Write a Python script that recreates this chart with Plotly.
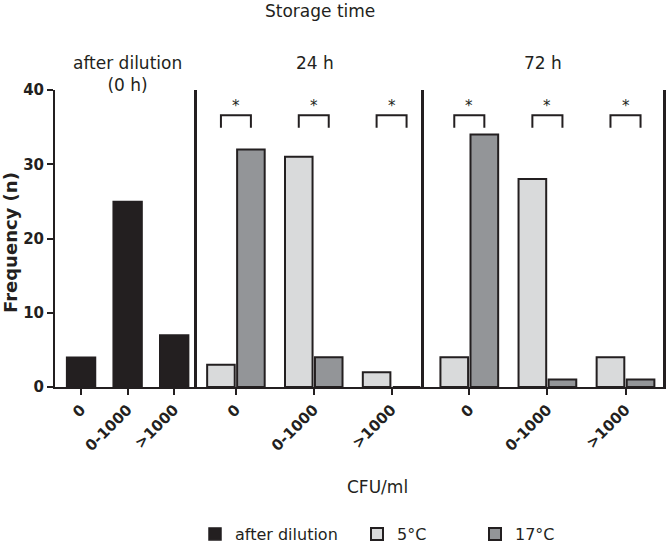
import plotly.graph_objects as go

# ---------------- data ----------------
categories = ["0", "0-1000", ">1000"]
after_dilution = [4, 25, 7]
h24_5c = [3, 31, 2]
h24_17c = [32, 4, 0]
h72_5c = [4, 28, 4]
h72_17c = [34, 1, 1]
y_ticks = [0, 10, 20, 30, 40]
panel_titles = ["after dilution<br>(0 h)", "24 h", "72 h"]
sig_24 = [True, True, True]
sig_72 = [True, True, True]

# ---------------- style ----------------
INK = "#231f20"
C_AFTER = "#231f20"
C_5 = "#d9dadb"
C_17 = "#939598"
FONT = "DejaVu Sans"
W, H = 666, 545
ML, MR, MT, MB = 55, 3, 90, 158
PW = W - ML - MR
PH = H - MT - MB
BARGAP = 0.23
BARGROUPGAP = 0.08


def px_x(p):
    """page pixel x -> paper fraction"""
    return (p - ML) / PW


def px_y(p):
    """page pixel y -> paper fraction"""
    return (H - MB - p) / PH


fig = go.Figure()

fig.add_trace(go.Bar(x=categories, y=after_dilution, name="after dilution",
                     xaxis="x", yaxis="y", width=0.62,
                     marker=dict(color=C_AFTER, line=dict(color=INK, width=1.5)),
                     legend="legend"))
fig.add_trace(go.Bar(x=categories, y=h24_5c, name="5°C", legendgroup="5c",
                     xaxis="x2", yaxis="y2",
                     marker=dict(color=C_5, line=dict(color=INK, width=2)),
                     legend="legend2"))
fig.add_trace(go.Bar(x=categories, y=h24_17c, name="17°C", legendgroup="17c",
                     xaxis="x2", yaxis="y2",
                     marker=dict(color=C_17, line=dict(color=INK, width=2)),
                     legend="legend3"))
fig.add_trace(go.Bar(x=categories, y=h72_5c, name="5°C", legendgroup="5c",
                     xaxis="x3", yaxis="y3", showlegend=False,
                     marker=dict(color=C_5, line=dict(color=INK, width=2))))
fig.add_trace(go.Bar(x=categories, y=h72_17c, name="17°C", legendgroup="17c",
                     xaxis="x3", yaxis="y3", showlegend=False,
                     marker=dict(color=C_17, line=dict(color=INK, width=2))))

tickfont = dict(family=FONT, size=15, color=INK, weight="bold")
xcommon = dict(type="category", showline=True, linewidth=2, linecolor=INK,
               ticks="outside", ticklen=6, tickwidth=2, tickcolor=INK,
               tickangle=-45, tickfont=tickfont, showgrid=False, zeroline=False)

d1 = px_x(197)
d2 = px_x(423.5)
d3 = px_x(424)

fig.update_layout(
    width=W, height=H,
    margin=dict(l=ML, r=MR, t=MT, b=MB, autoexpand=False),
    paper_bgcolor="white", plot_bgcolor="white",
    barmode="group", bargap=BARGAP, bargroupgap=BARGROUPGAP,
    font=dict(family=FONT, size=17, color=INK),
    xaxis=dict(domain=[0, d1], range=[-0.56, 2.49], anchor="y", **xcommon),
    xaxis2=dict(domain=[d1, d2], range=[-0.5, 2.41], anchor="y2", **xcommon),
    xaxis3=dict(domain=[d3, 1], range=[-0.58, 2.48], anchor="y3", **xcommon),
    yaxis=dict(range=[0, 40], tickvals=y_ticks, anchor="x",
               showline=True, linewidth=2, linecolor=INK,
               ticks="outside", ticklen=6, tickwidth=2, tickcolor=INK,
               tickfont=tickfont, showgrid=False, zeroline=False),
    yaxis2=dict(matches="y", range=[0, 40], anchor="x2", showline=True, linewidth=3,
                linecolor=INK, showticklabels=False, ticks="", showgrid=False,
                zeroline=False),
    yaxis3=dict(matches="y", range=[0, 40], anchor="x3", showline=True, linewidth=3,
                linecolor=INK, mirror=True, showticklabels=False, ticks="",
                showgrid=False, zeroline=False),
    showlegend=True,
)

leg_common = dict(orientation="h", xanchor="left", yanchor="middle",
                  yref="container", y=(H - 534) / H,
                  bgcolor="rgba(0,0,0,0)",
                  font=dict(family=FONT, size=16, color=INK))
fig.update_layout(
    legend=dict(x=px_x(195), **leg_common),
    legend2=dict(x=px_x(357), **leg_common),
    legend3=dict(x=px_x(475), **leg_common),
)

annotations = []
# y axis title
annotations.append(dict(text="<b>Frequency (n)</b>", x=px_x(10), y=px_y(243),
                        xref="paper", yref="paper", showarrow=False,
                        textangle=-90, xanchor="center", yanchor="middle",
                        font=dict(family=FONT, size=18, color=INK)))
# panel titles
annotations.append(dict(text=panel_titles[0], x=px_x(127.7), y=px_y(74),
                        xref="paper", yref="paper", showarrow=False,
                        xanchor="center", yanchor="middle"))
annotations.append(dict(text=panel_titles[1], x=px_x(315), y=px_y(63),
                        xref="paper", yref="paper", showarrow=False,
                        xanchor="center", yanchor="middle"))
annotations.append(dict(text=panel_titles[2], x=px_x(543), y=px_y(63),
                        xref="paper", yref="paper", showarrow=False,
                        xanchor="center", yanchor="middle"))
annotations.append(dict(text="Storage time", x=px_x(320), y=px_y(11),
                        xref="paper", yref="paper", showarrow=False,
                        xanchor="center", yanchor="middle"))
annotations.append(dict(text="CFU/ml", x=px_x(377), y=px_y(487),
                        xref="paper", yref="paper", showarrow=False,
                        xanchor="center", yanchor="middle"))

# significance brackets
off = (1 - BARGAP) / 4
BR_TOP, BR_LOW, STAR_Y = 36.6, 34.9, 37.8
shapes = []
for xr, yr, sig in (("x2", "y2", sig_24), ("x3", "y3", sig_72)):
    for i, s in enumerate(sig):
        if not s:
            continue
        shapes.append(dict(type="path", xref=xr, yref=yr,
                           path=f"M {i - off},{BR_LOW} L {i - off},{BR_TOP} "
                                f"L {i + off},{BR_TOP} L {i + off},{BR_LOW}",
                           line=dict(color=INK, width=2)))
        annotations.append(dict(text="*", x=i, y=STAR_Y, xref=xr, yref=yr,
                                showarrow=False, xanchor="center", yanchor="middle",
                                font=dict(family=FONT, size=15, color=INK)))

fig.update_layout(annotations=annotations, shapes=shapes)

# remove the browser's default 8px body margin so the figure fills the window
fig.write_html("out.html", config={"displayModeBar": False},
               post_script="document.body.style.margin='0';")
